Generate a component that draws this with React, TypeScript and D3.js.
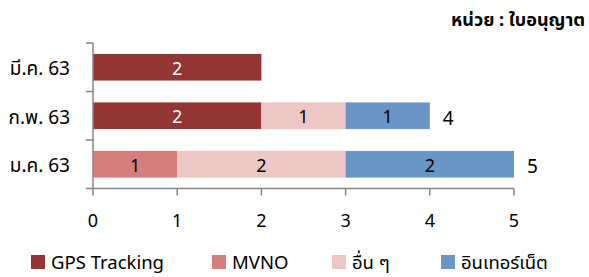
import { useEffect, useRef } from 'react';
import * as d3 from 'd3';

const categories = ['มี.ค. 63', 'ก.พ. 63', 'ม.ค. 63'];
const seriesNames = ['GPS Tracking', 'MVNO', 'อื่น ๆ', 'อินเทอร์เน็ต'];
const gpsTracking = [2, 2, 0];
const mvno = [0, 0, 1];
const others = [0, 1, 2];
const internet = [0, 1, 2];
const showTotal = [false, true, true];
const xTicks = [0, 1, 2, 3, 4, 5];
const unitLabel = 'หน่วย : ใบอนุญาต';

const colors = ['#943634', '#D47E7E', '#EDC6C6', '#6A95C7'];
const textColors = ['#ffffff', '#000000', '#000000', '#000000'];

const W = 589;
const H = 277;
const FONT = "Tahoma, 'Noto Sans Thai', 'Noto Sans', sans-serif";

export default function App() {
  const svgRef = useRef<SVGSVGElement>(null);

  useEffect(() => {
    if (!svgRef.current) return;
    const svg = d3.select(svgRef.current);
    svg.selectAll('*').remove();

    const margin = { left: 93, right: 75, top: 43, bottom: 88.5 };
    const x = d3.scaleLinear().domain([0, 5]).range([margin.left, W - margin.right]);
    const y = d3.scaleBand<string>()
      .domain(categories)
      .range([margin.top, H - margin.bottom])
      .paddingInner(0.45)
      .paddingOuter(0.225);

    const values = [gpsTracking, mvno, others, internet];
    const rows = categories.map((c, i) => {
      const r: any = { cat: c };
      seriesNames.forEach((s, j) => { r[s] = values[j][i]; });
      return r;
    });
    const stacked = d3.stack<any>().keys(seriesNames)(rows);

    const g = svg.append('g').style('font-family', FONT);

    stacked.forEach((layer, si) => {
      layer.forEach((d, ci) => {
        const v = d[1] - d[0];
        if (v <= 0) return;
        const cat = categories[ci];
        g.append('rect')
          .attr('x', x(d[0]))
          .attr('y', y(cat)!)
          .attr('width', x(d[1]) - x(d[0]))
          .attr('height', y.bandwidth())
          .attr('fill', colors[si]);
        g.append('text')
          .attr('x', (x(d[0]) + x(d[1])) / 2)
          .attr('y', y(cat)! + y.bandwidth() / 2 + 1)
          .attr('dy', '0.36em')
          .attr('text-anchor', 'middle')
          .attr('font-size', 18)
          .attr('fill', textColors[si])
          .text(v);
      });
    });

    // totals
    categories.forEach((c, i) => {
      if (!showTotal[i]) return;
      const total = values.reduce((a, s) => a + s[i], 0);
      g.append('text')
        .attr('x', x(total) + 13)
        .attr('y', y(c)! + y.bandwidth() / 2 + 2)
        .attr('dy', '0.36em')
        .attr('font-size', 19)
        .attr('fill', '#000')
        .text(total);
    });

    const axisColor = '#868686';
    const [y0, y1] = y.range();
    const step = (y1 - y0) / categories.length;

    // y axis
    g.append('line')
      .attr('x1', margin.left).attr('x2', margin.left)
      .attr('y1', y0).attr('y2', y1)
      .attr('stroke', axisColor).attr('stroke-width', 1.5);
    d3.range(categories.length + 1).forEach(i => {
      g.append('line')
        .attr('x1', margin.left - 7).attr('x2', margin.left)
        .attr('y1', y0 + i * step).attr('y2', y0 + i * step)
        .attr('stroke', axisColor).attr('stroke-width', 1.5);
    });
    categories.forEach(c => {
      g.append('text')
        .attr('x', 70)
        .attr('y', y(c)! + y.bandwidth() / 2 + 1)
        .attr('dy', '0.36em')
        .attr('text-anchor', 'end')
        .attr('font-size', 19)
        .attr('fill', '#000')
        .text(c);
    });

    // x axis
    g.append('line')
      .attr('x1', x(0)).attr('x2', x(5))
      .attr('y1', y1).attr('y2', y1)
      .attr('stroke', axisColor).attr('stroke-width', 1.5);
    xTicks.forEach(t => {
      g.append('line')
        .attr('x1', x(t)).attr('x2', x(t))
        .attr('y1', y1).attr('y2', y1 + 7)
        .attr('stroke', axisColor).attr('stroke-width', 1.5);
      g.append('text')
        .attr('x', x(t))
        .attr('y', y1 + 32)
        .attr('dy', '0.36em')
        .attr('text-anchor', 'middle')
        .attr('font-size', 18)
        .attr('fill', '#000')
        .text(t);
    });

    // unit label
    g.append('text')
      .attr('x', 585)
      .attr('y', 20)
      .attr('dy', '0.36em')
      .attr('text-anchor', 'end')
      .attr('font-size', 18)
      .attr('font-weight', 'bold')
      .attr('fill', '#000')
      .text(unitLabel);

    // legend
    const legendX = [31, 212, 332, 441];
    seriesNames.forEach((s, i) => {
      const lg = g.append('g').attr('transform', `translate(${legendX[i]},262)`);
      lg.append('rect')
        .attr('x', 0).attr('y', -7)
        .attr('width', 14).attr('height', 14)
        .attr('fill', colors[i]);
      lg.append('text')
        .attr('x', 20)
        .attr('y', 0)
        .attr('dy', '0.36em')
        .attr('font-size', 18.5)
        .attr('fill', '#000')
        .text(s);
    });
  }, []);

  return (
    <svg ref={svgRef} width={W} height={H} style={{ position: 'absolute', left: 0, top: 0, background: '#fff' }} />
  );
}
